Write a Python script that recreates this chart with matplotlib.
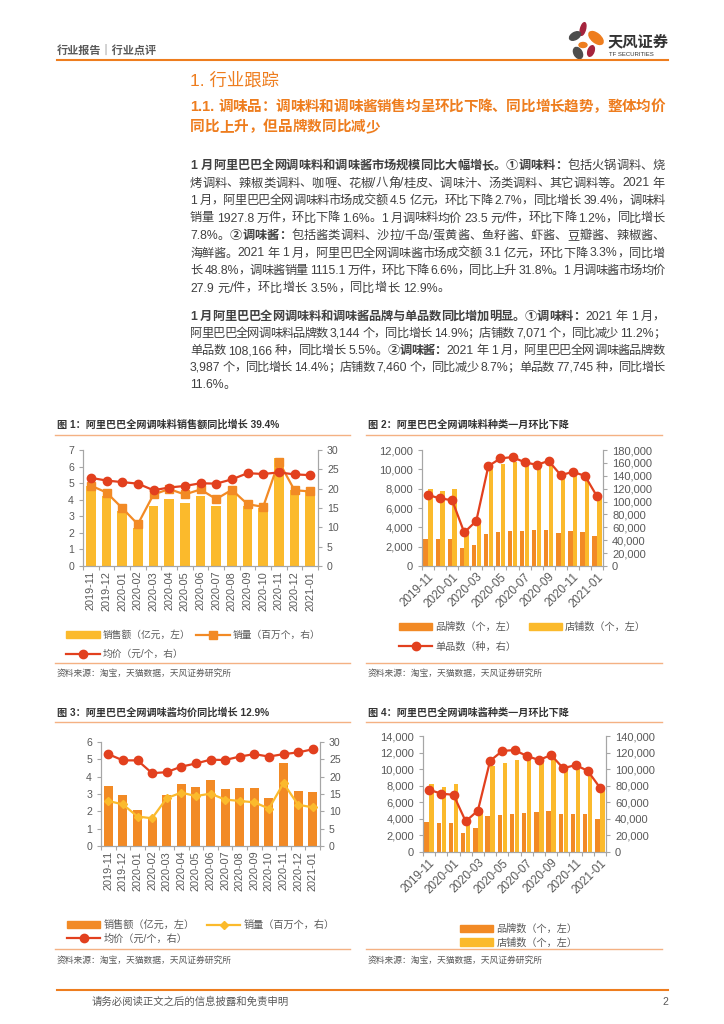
import re
import numpy as np
import matplotlib
matplotlib.use("Agg")
import matplotlib.pyplot as plt
from matplotlib.patches import Ellipse, Patch
from matplotlib.ticker import FuncFormatter

plt.rcParams['font.family'] = ['Liberation Sans', 'Noto Sans CJK SC', 'DejaVu Sans']

W, H = 724, 1024
ORANGE = '#EE7D1E'
YEL = '#FBBA2C'
ORG = '#F28A25'
RED = '#E2401E'
GRAY = '#595959'
TXT = '#404040'

months = ['2019-11', '2019-12', '2020-01', '2020-02', '2020-03', '2020-04', '2020-05',
          '2020-06', '2020-07', '2020-08', '2020-09', '2020-10', '2020-11', '2020-12', '2021-01']

# 图1 调味料
seasoning_sales = [4.8, 4.2, 3.3, 2.3, 3.6, 4.05, 3.8, 4.2, 3.65, 4.45, 3.6, 3.5, 6.5, 4.6, 4.5]
seasoning_volume = [20.8, 19.0, 15.0, 10.8, 18.5, 19.9, 18.5, 19.8, 17.3, 19.7, 16.0, 15.3, 27.0, 19.6, 19.28]
seasoning_price = [22.8, 22.1, 21.7, 21.3, 19.6, 20.3, 20.7, 21.4, 21.3, 22.4, 24.0, 23.8, 24.2, 23.7, 23.5]

# 图2 调味料种类
seasoning_brands = [2750, 2750, 2750, 1850, 2200, 3350, 3500, 3600, 3650, 3700, 3750, 3450, 3600, 3500, 3144]
seasoning_shops = [8000, 7750, 7950, 3600, 4800, 10300, 10600, 10800, 10600, 10700, 11200, 9500, 9600, 9300, 7071]
seasoning_skus = [110000, 105000, 102000, 52000, 70000, 155000, 167000, 169000, 161000, 157000, 163000,
                  141000, 146000, 140000, 108166]

# 图3 调味酱
sauce_sales = [3.45, 2.97, 2.1, 1.6, 2.93, 3.55, 3.4, 3.78, 3.3, 3.33, 3.32, 2.78, 4.8, 3.2, 3.1]
sauce_volume = [13.0, 12.0, 8.5, 8.0, 13.8, 15.4, 14.4, 15.1, 13.4, 13.0, 12.6, 10.8, 18.1, 11.9, 11.15]
sauce_price = [26.5, 24.7, 24.7, 21.0, 21.3, 22.9, 23.8, 24.9, 24.8, 25.8, 26.5, 25.8, 26.5, 27.0, 27.9]

# 图4 调味酱种类
sauce_brands = [3600, 3550, 3500, 2350, 2850, 4300, 4500, 4600, 4700, 4800, 4900, 4550, 4600, 4550, 3987]
sauce_shops = [8200, 7900, 8200, 3800, 5200, 10400, 10800, 11100, 11300, 11000, 11500, 10000, 10100, 9700, 7460]
sauce_skus = [75000, 70500, 69000, 37000, 50000, 110000, 122000, 123000, 116000, 111000, 117000,
              101000, 105000, 98000, 77745]

para1 = [
    [("1 月阿里巴巴全网调味料和调味酱市场规模同比大幅增长。①调味料：", True), ("包括火锅调料、烧", False)],
    [("烤调料、辣椒类调料、咖喱、花椒/八角/桂皮、调味汁、汤类调料、其它调料等。2021 年", False)],
    [("1 月，阿里巴巴全网调味料市场成交额 4.5 亿元，环比下降 2.7%，同比增长 39.4%，调味料", False)],
    [("销量 1927.8 万件，环比下降 1.6%。1 月调味料均价 23.5 元/件，环比下降 1.2%，同比增长", False)],
    [("7.8%。", False), ("②调味酱：", True), ("包括酱类调料、沙拉/千岛/蛋黄酱、鱼籽酱、虾酱、豆瓣酱、辣椒酱、", False)],
    [("海鲜酱。2021 年 1 月，阿里巴巴全网调味酱市场成交额 3.1 亿元，环比下降 3.3%，同比增", False)],
    [("长 48.8%，调味酱销量 1115.1 万件，环比下降 6.6%，同比上升 31.8%。1 月调味酱市场均价", False)],
    [("27.9 元/件，环比增长 3.5%，同比增长 12.9%。", False)],
]
para2 = [
    [("1 月阿里巴巴全网调味料和调味酱品牌与单品数同比增加明显。①调味料：", True), ("2021 年 1 月，", False)],
    [("阿里巴巴全网调味料品牌数 3,144 个，同比增长 14.9%；店铺数 7,071 个，同比减少 11.2%；", False)],
    [("单品数 108,166 种，同比增长 5.5%。", False), ("②调味酱：", True), ("2021 年 1 月，阿里巴巴全网调味酱品牌数", False)],
    [("3,987 个，同比增长 14.4%；店铺数 7,460 个，同比减少 8.7%；单品数 77,745 种，同比增长", False)],
    [("11.6%。", False)],
]

fig = plt.figure(figsize=(W / 100, H / 100), dpi=100)
bg = fig.add_axes([0, 0, 1, 1])
bg.set_xlim(0, W)
bg.set_ylim(H, 0)
bg.axis('off')
renderer = fig.canvas.get_renderer()


def rect(x0, y0, x1, y1):
    return [x0 / W, 1 - y1 / H, (x1 - x0) / W, (y1 - y0) / H]


def draw_line(y, runs, x0, x1, size, justify=True, color=TXT):
    toks = []
    for text, bold in runs:
        for t in re.findall(r'[0-9A-Za-z.,%]+|\s|.', text):
            toks.append((t, bold))
    items = []
    total = 0
    for t, bold in toks:
        if t == ' ':
            items.append((None, size * 0.3 * 100 / 72))
            total += size * 0.3 * 100 / 72
            continue
        tx = bg.text(0, y, t, fontsize=size, color=color, va='center', ha='left',
                     fontweight='bold' if bold else 'normal')
        w = tx.get_window_extent(renderer).width
        items.append((tx, w))
        total += w
    gap = (x1 - x0 - total) / (len(items) - 1) if justify and len(items) > 1 else 0
    x = x0
    for tx, w in items:
        if tx is not None:
            tx.set_x(x)
        x += w + gap


# header
bg.text(57, 50, "行业报告｜行业点评", fontsize=8, color=GRAY, va='center', fontweight='bold')
bg.plot([57, 668], [60, 60], color=ORANGE, lw=1.5)
for (cx, cy, w, h, a, c) in [(583, 29, 5, 13, 15, '#A5243D'), (575, 36, 12, 7, -30, '#4D4D4D'),
                             (596, 38, 17, 9, 40, ORANGE), (583, 45, 8, 5, 0, ORANGE),
                             (591, 51, 6, 11, 20, '#A5243D'), (578, 53, 8, 12, -30, '#4D4D4D')]:
    bg.add_patch(Ellipse((cx, cy), w, h, angle=a, color=c))
bg.text(608, 42, "天风证券", fontsize=11, color='#333333', va='center', fontweight='bold')
bg.text(609, 55, "TF SECURITIES", fontsize=4.3, color='#333333', va='center')

# headings
bg.text(190, 80, "1. 行业跟踪", fontsize=12.5, color=ORANGE, va='center')
draw_line(107, [("1.1. 调味品：调味料和调味酱销售均呈环比下降、同比增长趋势，整体均价", True)],
          190, 665, 10.5, color=ORANGE)
draw_line(127, [("同比上升，但品牌数同比减少", True)], 190, 665, 10.5, justify=False, color=ORANGE)

# body
for i, runs in enumerate(para1):
    draw_line(166 + 17.5 * i, runs, 190, 665, 8.8, justify=i < len(para1) - 1)
for i, runs in enumerate(para2):
    draw_line(317 + 17.0 * i, runs, 190, 665, 8.8, justify=i < len(para2) - 1)

# footer
bg.plot([57, 668], [990, 990], color=ORANGE, lw=1.5)
bg.text(92, 1002, "请务必阅读正文之后的信息披露和免责申明", fontsize=7.5, color=GRAY, va='center')
bg.text(668, 1002, "2", fontsize=7.5, color=GRAY, va='center', ha='right')

# chart frames
titles = [
    (57, 425, "图 1：阿里巴巴全网调味料销售额同比增长 39.4%"),
    (368, 425, "图 2：阿里巴巴全网调味料种类一月环比下降"),
    (57, 713, "图 3：阿里巴巴全网调味酱均价同比增长 12.9%"),
    (368, 713, "图 4：阿里巴巴全网调味酱种类一月环比下降"),
]
for x0, y0, t in titles:
    bg.text(x0, y0, t, fontsize=7.3, color='#333333', va='center', fontweight='bold')
for x0, x1 in [(55, 350), (366, 662)]:
    bg.plot([x0, x1], [435, 435], color='#F4B183', lw=1.0)
    bg.plot([x0, x1], [663, 663], color='#F4B183', lw=1.0)
    bg.text(x0 + 2, 673, "资料来源：淘宝，天猫数据，天风证券研究所", fontsize=6.3, color=GRAY, va='center')
    bg.plot([x0, x1], [722, 722], color='#F4B183', lw=1.0)
    bg.plot([x0, x1], [949, 949], color='#F4B183', lw=1.0)
    bg.text(x0 + 2, 960, "资料来源：淘宝，天猫数据，天风证券研究所", fontsize=6.3, color=GRAY, va='center')


def style(ax, ax2, ysize=7.6, xsize=7.8):
    for a in (ax, ax2):
        a.spines['top'].set_visible(False)
        for s in ('left', 'right', 'bottom'):
            a.spines[s].set_color('#A6A6A6')
            a.spines[s].set_linewidth(0.8)
        a.tick_params(colors='#A6A6A6', labelcolor=GRAY, labelsize=ysize, length=3, width=0.8)
    ax.set_xlim(-0.5, len(months) - 0.5)
    ax.set_xticks(np.arange(-0.5, len(months), 1), minor=True)
    ax.tick_params(axis='x', which='minor', length=3, width=0.8, colors='#A6A6A6')
    ax.tick_params(axis='x', which='major', length=0, labelsize=xsize)


x = np.arange(len(months))
comma = FuncFormatter(lambda v, p: f"{int(v):,}")

# chart 1
ax = fig.add_axes(rect(83, 450, 318, 566))
ax.bar(x, seasoning_sales, width=0.62, color=YEL)
ax.set_ylim(0, 7)
ax.set_yticks(range(8))
ax2 = ax.twinx()
l1, = ax2.plot(x, seasoning_volume, color=ORG, marker='s', ms=6, lw=1.6)
l2, = ax2.plot(x, seasoning_price, color=RED, marker='o', ms=6, lw=1.6)
ax2.set_ylim(0, 30)
ax2.set_yticks(range(0, 31, 5))
style(ax, ax2)
ax.set_xticks(x)
ax.set_xticklabels(months, rotation=90)
fig.legend([Patch(color=YEL), l2, l1],
           ["销售额（亿元，左）", "均价（元/个，右）", "销量（百万个，右）"],
           loc='upper left', bbox_to_anchor=(66 / W, 1 - 630 / H), ncol=2, frameon=False,
           fontsize=7, handlelength=3.5, handletextpad=0.3, columnspacing=0.5,
           borderaxespad=0, borderpad=0, labelspacing=0.95, labelcolor=GRAY)

# chart 2
ax = fig.add_axes(rect(422, 450, 603, 566))
ax.bar(x - 0.2, seasoning_brands, width=0.36, color=ORG)
ax.bar(x + 0.2, seasoning_shops, width=0.36, color=YEL)
ax.set_ylim(0, 12000)
ax.set_yticks(range(0, 12001, 2000))
ax.yaxis.set_major_formatter(comma)
ax2 = ax.twinx()
l3, = ax2.plot(x, seasoning_skus, color=RED, marker='o', ms=6, lw=1.6)
ax2.set_ylim(0, 180000)
ax2.set_yticks(range(0, 180001, 20000))
ax2.yaxis.set_major_formatter(comma)
style(ax, ax2, ysize=8, xsize=8.4)
ax.set_xticks(x[::2])
ax.set_xticklabels(months[::2], rotation=45, ha='right', rotation_mode='anchor')
fig.legend([Patch(color=ORG), l3, Patch(color=YEL)],
           ["品牌数（个，左）", "单品数（种，右）", "店铺数（个，左）"],
           loc='upper left', bbox_to_anchor=(399 / W, 1 - 622 / H), ncol=2, frameon=False,
           fontsize=7.3, handlelength=3.3, handletextpad=0.3, columnspacing=1.2,
           borderaxespad=0, borderpad=0, labelspacing=0.9, labelcolor=GRAY)

# chart 3
ax = fig.add_axes(rect(101, 742, 320, 846))
ax.bar(x, sauce_sales, width=0.62, color=ORG)
ax.set_ylim(0, 6)
ax.set_yticks(range(7))
ax2 = ax.twinx()
l4, = ax2.plot(x, sauce_volume, color=YEL, marker='D', ms=4.5, lw=1.6)
l5, = ax2.plot(x, sauce_price, color=RED, marker='o', ms=6, lw=1.6)
ax2.set_ylim(0, 30)
ax2.set_yticks(range(0, 31, 5))
style(ax, ax2)
ax.set_xticks(x)
ax.set_xticklabels(months, rotation=90)
fig.legend([Patch(color=ORG), l5, l4],
           ["销售额（亿元，左）", "均价（元/个，右）", "销量（百万个，右）"],
           loc='upper left', bbox_to_anchor=(67 / W, 1 - 920 / H), ncol=2, frameon=False,
           fontsize=7.3, handlelength=3.3, handletextpad=0.3, columnspacing=1.2,
           borderaxespad=0, borderpad=0, labelspacing=0.3, labelcolor=GRAY)

# chart 4
ax = fig.add_axes(rect(423, 736, 606, 852))
ax.bar(x - 0.2, sauce_brands, width=0.36, color=ORG)
ax.bar(x + 0.2, sauce_shops, width=0.36, color=YEL)
ax.set_ylim(0, 14000)
ax.set_yticks(range(0, 14001, 2000))
ax.yaxis.set_major_formatter(comma)
ax2 = ax.twinx()
ax2.plot(x, sauce_skus, color=RED, marker='o', ms=6, lw=1.6)
ax2.set_ylim(0, 140000)
ax2.set_yticks(range(0, 140001, 20000))
ax2.yaxis.set_major_formatter(comma)
style(ax, ax2, ysize=8, xsize=8.4)
ax.set_xticks(x[::2])
ax.set_xticklabels(months[::2], rotation=45, ha='right', rotation_mode='anchor')
fig.legend([Patch(color=ORG), Patch(color=YEL)],
           ["品牌数（个，左）", "店铺数（个，左）"],
           loc='upper left', bbox_to_anchor=(460 / W, 1 - 924 / H), ncol=1, frameon=False,
           fontsize=7.3, handlelength=3.3, handletextpad=0.3,
           borderaxespad=0, borderpad=0, labelspacing=0.3, labelcolor=GRAY)

fig.savefig("out.png", dpi=100)
